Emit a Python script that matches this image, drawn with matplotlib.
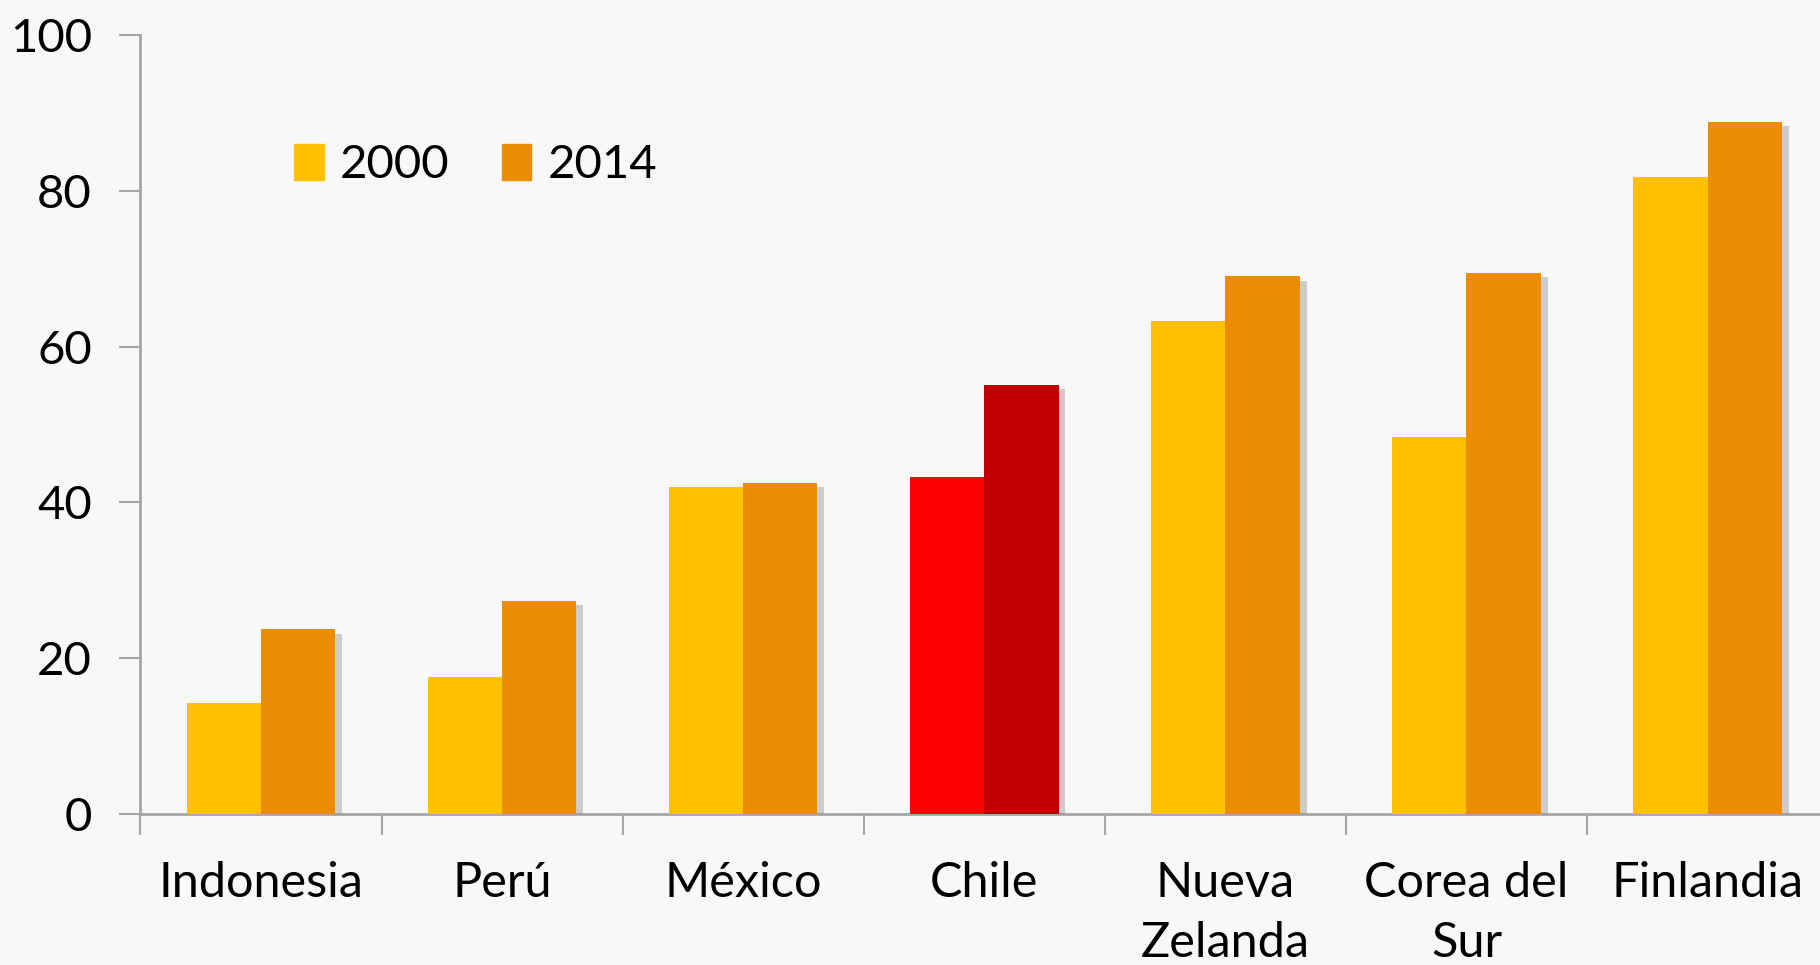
import numpy as np
import matplotlib
matplotlib.use("Agg")
import matplotlib.pyplot as plt
import matplotlib.patheffects as pe
from matplotlib.patches import Patch

# data
paises = ["Indonesia", "Perú", "México", "Chile", "Nueva\nZelanda", "Corea del\nSur", "Finlandia"]
v2000 = [14.3, 17.6, 42.0, 43.2, 63.3, 48.4, 81.7]
v2014 = [23.7, 27.3, 42.5, 55.1, 69.0, 69.4, 88.8]
col2000 = ["#FFC000", "#FFC000", "#FFC000", "#FF0000", "#FFC000", "#FFC000", "#FFC000"]
col2014 = ["#EC8C03", "#EC8C03", "#EC8C03", "#C00000", "#EC8C03", "#EC8C03", "#EC8C03"]

plt.rcParams['font.family'] = ['Lato', 'DejaVu Sans']
bg = "#F8F8F8"
grey = "#A6A6A6"

fig = plt.figure(figsize=(18.2, 9.65), dpi=100, facecolor=bg)
ax = fig.add_axes([121/1568, 1 - 701/831, (1575 - 121)/1568, (701 - 30)/831])
ax.set_facecolor(bg)

x = np.arange(len(paises))
w = 0.308
shadow = [pe.SimplePatchShadow(offset=(5, -3), shadow_rgbFace="#7a7a7a", alpha=0.35), pe.Normal()]
b1 = ax.bar(x - w/2, v2000, w, color=col2000, label="2000", zorder=3)
b2 = ax.bar(x + w/2, v2014, w, color=col2014, label="2014", zorder=3)
for r in list(b1) + list(b2):
    r.set_path_effects(shadow)

ax.set_xlim(-0.5, 6.5)
ax.set_ylim(0, 100)
ax.set_yticks([0, 20, 40, 60, 80, 100])
ax.set_xticks(x)
ax.set_xticklabels(paises, linespacing=1.45)
ax.set_xticks(np.arange(-0.5, 7, 1), minor=True)
ax.tick_params(axis='x', which='major', length=0, pad=34, labelsize=35)
ax.tick_params(axis='x', which='minor', length=15, width=1.5, color=grey, direction='out')
ax.tick_params(axis='y', length=15, width=1.5, color=grey, labelsize=34, pad=20)

for s in ['top', 'right']:
    ax.spines[s].set_visible(False)
for s in ['left', 'bottom']:
    ax.spines[s].set_color(grey)
    ax.spines[s].set_linewidth(2)

handles = [Patch(color="#FFC000"), Patch(color="#EC8C03")]
ax.legend(handles, ["2000", "2014"], loc='upper left', bbox_to_anchor=(0.066, 0.915),
          ncol=2, frameon=False, fontsize=34, handlelength=0.62, handleheight=0.8,
          handletextpad=0.35, columnspacing=1.1)

fig.savefig("out.png", dpi=100, facecolor=bg)
